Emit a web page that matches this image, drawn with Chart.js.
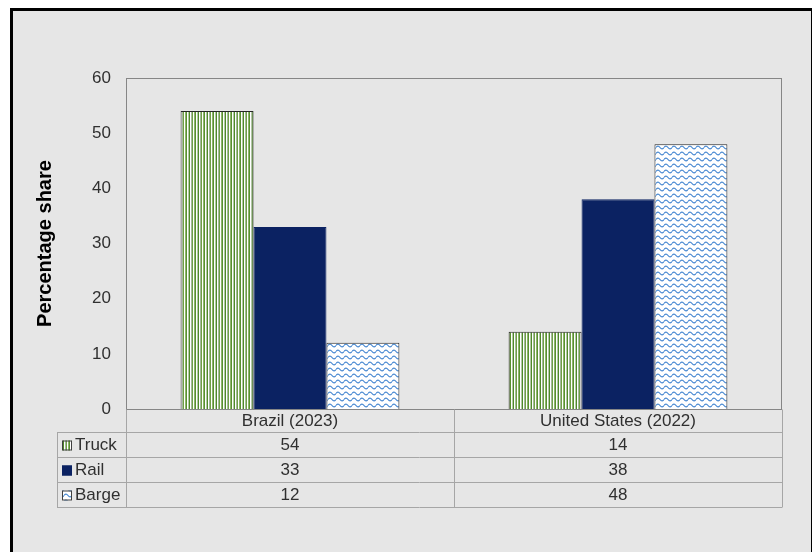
<!DOCTYPE html>
<html>
<head>
<meta charset="utf-8">
<script src="https://cdn.jsdelivr.net/npm/chart.js@4.4.1/dist/chart.umd.min.js"></script>
<style>
  body { margin: 0; background: #fff; }
  .frame {
    position: absolute; left: 10px; top: 8px; width: 798px; height: 560px;
    border: 3px solid #000; background: #e6e6e6;
  }
  canvas { position: absolute; left: 0; top: 0; }
</style>
</head>
<body>
<div class="frame"></div>
<canvas id="chart" width="812" height="552"></canvas>
<script>
const categories = ['Brazil (2023)', 'United States (2022)'];
const truck = [54, 14];
const rail = [33, 38];
const barge = [12, 48];
const seriesNames = ['Truck', 'Rail', 'Barge'];
const yTicks = [0, 10, 20, 30, 40, 50, 60];

const FONT = '"Liberation Sans", Arial, sans-serif';
const TEXT = '#303030';
const LINE = '#a6a6a6';

// vertical green stripes
function stripePattern() {
  const c = document.createElement('canvas');
  c.width = 9; c.height = 4;
  const g = c.getContext('2d');
  g.fillStyle = '#ffffff';
  g.fillRect(0, 0, 9, 4);
  const cols = ['#4f8a28', null, '#a3b99a', '#6f9f45', null, '#8fb46d', '#58902f', null, '#b2c7a5'];
  cols.forEach((col, i) => {
    if (col) { g.fillStyle = col; g.fillRect(i, 0, 1, 4); }
  });
  return g.createPattern(c, 'repeat');
}

// blue wavy lines
function wavePattern() {
  const c = document.createElement('canvas');
  c.width = 8; c.height = 6;
  const g = c.getContext('2d');
  g.fillStyle = '#ffffff';
  g.fillRect(0, 0, 8, 6);
  g.strokeStyle = '#4a8ad2';
  g.lineWidth = 1.2;
  g.beginPath();
  g.moveTo(0, 3.5);
  g.quadraticCurveTo(2, 0.8, 4, 3.5);
  g.quadraticCurveTo(6, 6.2, 8, 3.5);
  g.stroke();
  return g.createPattern(c, 'repeat');
}

const fills = [stripePattern(), '#0b2262', wavePattern()];

// plot border + data table under the chart
const tablePlugin = {
  id: 'dataTable',
  afterDraw(chart) {
    const ctx = chart.ctx;
    const a = chart.chartArea;
    const rowH = 25;
    const headH = 23;
    const leftCol = 57;
    const colW = (a.right - a.left) / categories.length;
    const values = [truck, rail, barge];

    ctx.save();
    // plot area border
    ctx.strokeStyle = '#868686';
    ctx.lineWidth = 1;
    ctx.strokeRect(a.left + 0.5, a.top + 0.5, a.right - a.left - 1, a.bottom - a.top);

    ctx.strokeStyle = LINE;
    ctx.beginPath();
    const top = a.bottom + 0.5;
    const bottom = a.bottom + headH + rowH * seriesNames.length + 0.5;
    for (let i = 0; i <= categories.length; i++) {
      const x = Math.round(a.left + colW * i) + 0.5;
      ctx.moveTo(x, top);
      ctx.lineTo(x, bottom);
    }
    ctx.moveTo(leftCol + 0.5, a.bottom + headH);
    ctx.lineTo(leftCol + 0.5, bottom);
    for (let r = 0; r <= seriesNames.length; r++) {
      const y = a.bottom + headH + rowH * r + 0.5;
      ctx.moveTo(leftCol, y);
      ctx.lineTo(a.right, y);
    }
    ctx.stroke();

    ctx.font = '17px ' + FONT;
    ctx.fillStyle = TEXT;
    ctx.textBaseline = 'middle';
    ctx.textAlign = 'center';
    categories.forEach((c, i) => {
      ctx.fillText(c, a.left + colW * (i + 0.5), a.bottom + headH / 2 + 1);
    });

    seriesNames.forEach((name, r) => {
      const cy = a.bottom + headH + rowH * r + rowH / 2 + 1;
      // legend key
      ctx.fillStyle = fills[r];
      ctx.fillRect(62, cy - 5, 10, 10);
      ctx.strokeStyle = r === 1 ? '#0b2262' : '#404040';
      ctx.strokeRect(62.5, cy - 4.5, 9, 9);
      ctx.fillStyle = TEXT;
      ctx.textAlign = 'left';
      ctx.fillText(name, 75, cy);
      ctx.textAlign = 'center';
      values[r].forEach((v, i) => {
        ctx.fillText(String(v), a.left + colW * (i + 0.5), cy);
      });
    });
    ctx.restore();
  }
};

new Chart(document.getElementById('chart'), {
  type: 'bar',
  data: {
    labels: categories,
    datasets: [truck, rail, barge].map((d, i) => ({
      label: seriesNames[i],
      data: d,
      backgroundColor: fills[i],
      borderColor: i === 1 ? '#0b2262' : '#262626',
      borderWidth: 1,
      categoryPercentage: 0.667,
      barPercentage: 1
    }))
  },
  options: {
    responsive: false,
    animation: false,
    layout: { padding: { left: 30, right: 30, top: 78, bottom: 143 } },
    plugins: { legend: { display: false }, tooltip: { enabled: false } },
    scales: {
      x: { display: false },
      y: {
        min: 0,
        max: 60,
        afterFit(scale) { scale.width = 96; },
        afterBuildTicks(scale) { scale.ticks = yTicks.map(v => ({ value: v })); },
        grid: { display: false, drawTicks: false },
        border: { display: false },
        ticks: { padding: 15, color: TEXT, font: { family: FONT, size: 17 } },
        title: {
          display: true,
          text: 'Percentage share',
          color: '#000',
          padding: { top: 3, bottom: 0 },
          font: { family: FONT, size: 20, weight: 'bold' }
        }
      }
    }
  },
  plugins: [tablePlugin]
});
</script>
</body>
</html>
